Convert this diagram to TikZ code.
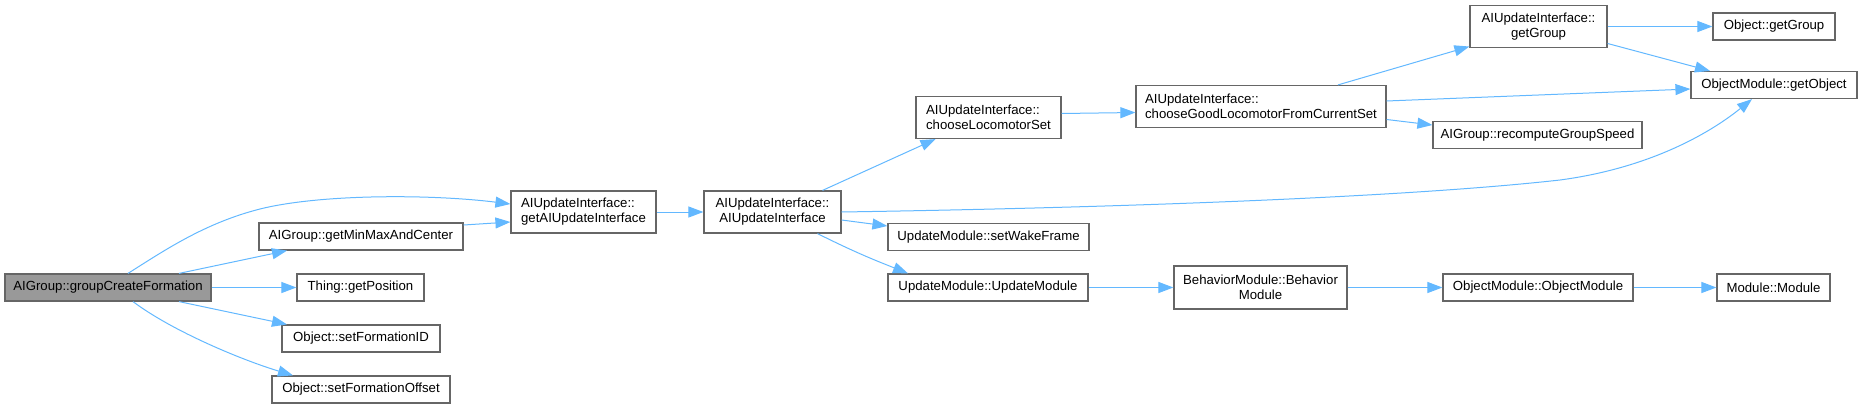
\documentclass[tikz,border=0pt]{standalone}
\usepackage{fontspec}
\setmainfont{Liberation Sans}
\usetikzlibrary{arrows.meta}
\definecolor{edgeblue}{HTML}{63B8FF}
\definecolor{boxgray}{HTML}{666666}
\definecolor{rootgray}{HTML}{999999}

\begin{document}
\begin{tikzpicture}[
  x=1pt, y=1pt,
  box/.style={draw=boxgray, fill=white, rectangle, line width=1.2pt,
              inner sep=0pt, minimum height=27pt,
              font=\fontsize{13.2}{15}\selectfont, align=center},
  rootbox/.style={box, fill=rootgray},
  arr/.style={-{Triangle[length=15pt,width=11pt]}, edgeblue, line width=1pt}
]
\useasboundingbox (0,0) rectangle (1862,408);

%% Root and its direct callees
\node[rootbox, minimum width=206pt] (gcf) at (108,120.5) {AIGroup::groupCreateFormation};
\node[box, minimum width=204pt] (minmax) at (361,171.5) {AIGroup::getMinMaxAndCenter};
\node[box, minimum width=127pt] (getpos) at (360.5,120.5) {Thing::getPosition};
\node[box, minimum width=158pt] (setid) at (361,69.5) {Object::setFormationID};
\node[box, minimum width=178pt] (setoff) at (361,18.5) {Object::setFormationOffset};

%% AIUpdateInterface chain
\node[box, minimum width=145pt, minimum height=42pt, align=left]
  (getaiu) at (583.5,196) {AIUpdateInterface::\\getAIUpdateInterface};
\node[box, minimum width=137pt, minimum height=42pt]
  (aiu) at (772.5,196) {AIUpdateInterface::\\AIUpdateInterface};
\node[box, minimum width=145pt, minimum height=42pt, align=left]
  (chooseset) at (988.5,290.5) {AIUpdateInterface::\\chooseLocomotorSet};
\node[box, minimum width=250pt, minimum height=42pt, align=left]
  (choosegood) at (1261,301.5) {AIUpdateInterface::\\chooseGoodLocomotorFromCurrentSet};
\node[box, minimum width=137pt, minimum height=42pt]
  (aigroup) at (1538.5,381.5) {AIUpdateInterface::\\getGroup};
\node[box, minimum width=122pt] (objgroup) at (1774,381.5) {Object::getGroup};
\node[box, minimum width=166pt] (getobj) at (1774,323) {ObjectModule::getObject};
\node[box, minimum width=209pt] (recompute) at (1537.5,273) {AIGroup::recomputeGroupSpeed};

%% Module constructors
\node[box, minimum width=201pt] (wake) at (988.5,171) {UpdateModule::setWakeFrame};
\node[box, minimum width=200pt] (updmod) at (988,120.5) {UpdateModule::UpdateModule};
\node[box, minimum width=173pt, minimum height=43pt]
  (behav) at (1260.5,120.5) {BehaviorModule::Behavior\\Module};
\node[box, minimum width=190pt] (objmod) at (1538,120.5) {ObjectModule::ObjectModule};
\node[box, minimum width=113pt] (module) at (1773.5,120.5) {Module::Module};

%% Calls from the root
\draw[arr] ([xshift=20pt]gcf.north) .. controls (165,158) and (205,185) .. (260,199)
  .. controls (320,214) and (430,214) .. ([yshift=8pt]getaiu.west);
\draw[arr] ([xshift=71pt]gcf.north) -- ([xshift=-74pt]minmax.south);
\draw[arr] (gcf) -- (getpos);
\draw[arr] ([xshift=71pt]gcf.south) -- ([xshift=-74pt]setid.north);
\draw[arr] ([xshift=25pt]gcf.south) .. controls +(40,-30) and +(-50,15) .. ([xshift=-68pt]setoff.north);
\draw[arr] ([yshift=11.5pt]minmax.east) -- ([yshift=-10pt]getaiu.west);

%% Calls inside AIUpdateInterface
\draw[arr] (getaiu) -- (aiu);
\draw[arr] ([xshift=50pt]aiu.north) -- ([xshift=-53pt]chooseset.south);
\draw[arr] (aiu.east) .. controls (1100,200) and (1400,210) .. (1560,228)
  .. controls (1650,240) and (1710,275) .. ([xshift=-22pt]getobj.south);
\draw[arr] ([yshift=-8pt]aiu.east) -- ([yshift=11pt]wake.west);
\draw[arr] ([xshift=45pt]aiu.south) .. controls +(40,-20) and +(-30,12) .. ([xshift=-80pt]updmod.north);
\draw[arr] ([yshift=4pt]chooseset.east) -- ([yshift=-6pt]choosegood.west);
\draw[arr] ([xshift=77pt]choosegood.north) -- ([yshift=-20pt]aigroup.west);
\draw[arr] ([yshift=5.5pt]choosegood.east) -- ([yshift=-4pt]getobj.west);
\draw[arr] ([yshift=-13pt]choosegood.east) -- ([yshift=10pt]recompute.west);
\draw[arr] (aigroup) -- (objgroup);
\draw[arr] ([yshift=-17pt]aigroup.east) -- ([xshift=-64pt]getobj.north);

%% Constructor chain
\draw[arr] (updmod) -- (behav);
\draw[arr] (behav) -- (objmod);
\draw[arr] (objmod) -- (module);

\end{tikzpicture}
\end{document}
